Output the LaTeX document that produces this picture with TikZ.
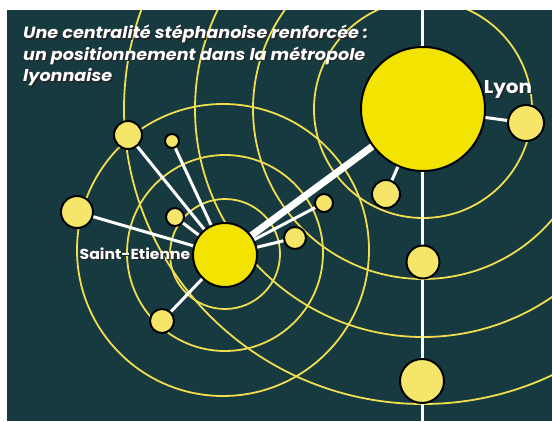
\documentclass[tikz,border=0pt]{standalone}
\usepackage{fontspec}
\newfontfamily\titlefont{Poppins}
\newfontfamily\titlewide{Poppins}[FakeStretch=1.08]
\definecolor{bg}{HTML}{173A40}
\definecolor{bigyel}{HTML}{F2E400}
\definecolor{satyel}{HTML}{F5E66A}
\definecolor{arcyel}{HTML}{F0DE50}
\newcommand\shadowtxt[1]{\leavevmode\rlap{\kern1.5pt\raisebox{-1.5pt}{\color{black!85}#1}}#1}
\pgfdeclarelayer{arclayer}
\pgfdeclarelayer{linelayer}
\pgfsetlayers{arclayer,linelayer,main}
\begin{document}
\begin{tikzpicture}[x=1pt,y=-1pt,
  ring/.style={draw=arcyel,line width=1.8pt},
  link/.style={draw=white,line width=3pt},
  biglink/.style={draw=white,line width=7pt},
  bigdot/.style={circle,fill=bigyel,draw=black,line width=2pt,inner sep=0pt},
  satdot/.style={circle,fill=satyel,draw=black,line width=2pt,inner sep=0pt},
  citylbl/.style={text=white,inner sep=0pt}]
\useasboundingbox (0,0) rectangle (552,421);
% cities and satellites
\node[bigdot,minimum size=124pt] (lyon) at (423,109) {};
\node[bigdot,minimum size=64pt] (ste) at (225,255) {};
\node[satdot,minimum size=28pt] (s1) at (128,135) {};
\node[satdot,minimum size=14pt] (s2) at (172,141) {};
\node[satdot,minimum size=32pt] (s3) at (77,212) {};
\node[satdot,minimum size=18pt] (s4) at (175,217) {};
\node[satdot,minimum size=24pt] (s5) at (162,321) {};
\node[satdot,minimum size=22pt] (s6) at (295,238) {};
\node[satdot,minimum size=18pt] (s7) at (324,203) {};
\node[satdot,minimum size=28pt] (s8) at (386,194) {};
\node[satdot,minimum size=36pt] (s9) at (526,123) {};
\node[satdot,minimum size=33pt] (s10) at (423,262) {};
\node[satdot,minimum size=44pt] (s11) at (422,381) {};
\coordinate (vtop) at (422,10);
\coordinate (vbot) at (422,421);
\begin{pgfonlayer}{arclayer}
  \fill[white] (0,0) rectangle (552,421);
  \fill[bg] (7,10) rectangle (552,421);
  \begin{scope}
    \clip (7,10) rectangle (552,421);
    \draw[ring] (lyon.center) circle[radius=109pt];
    \draw[ring] (lyon.center) circle[radius=170pt];
    \draw[ring] (lyon.center) circle[radius=228pt];
    \draw[ring] (lyon.center) circle[x radius=299pt,y radius=295pt];
    \draw[ring] (225,254) circle[radius=55pt];
    \draw[ring] (225,253) circle[radius=98pt];
    \draw[ring] (223,250) circle[radius=146pt];
  \end{scope}
\end{pgfonlayer}
\begin{pgfonlayer}{linelayer}
  \draw[link] (vtop) -- (vbot);
  \draw[biglink] (ste.center) -- (lyon.center);
  \foreach \s in {s1,s2,s3,s4,s5,s6,s7} \draw[link] (ste.center) -- (\s.center);
  \foreach \s in {s8,s9} \draw[link] (lyon.center) -- (\s.center);
\end{pgfonlayer}
% labels
\node[citylbl,font=\titlewide\bfseries\fontsize{18.5}{18.5}\selectfont] (lyonlbl) at (508,90) {\shadowtxt{Lyon}};
\node[citylbl,font=\titlewide\bfseries\fontsize{14.5}{14.5}\selectfont] (stelbl) at (135,254) {\shadowtxt{Saint-Etienne}};
\node[anchor=north west,text=white,inner sep=0pt,align=left,
      font=\titlewide\bfseries\itshape\fontsize{16.3}{21.5}\selectfont] (title) at (23,25)
  {\shadowtxt{Une centralité stéphanoise renforcée :}\\
   \shadowtxt{un positionnement dans la métropole}\\
   \shadowtxt{lyonnaise}};
\end{tikzpicture}
\end{document}
